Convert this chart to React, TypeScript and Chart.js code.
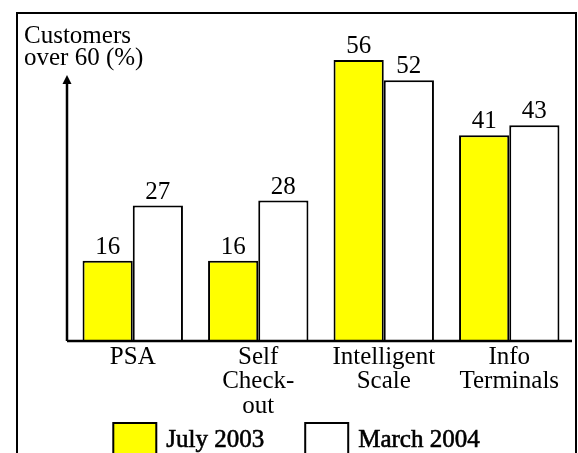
import React, { useEffect, useRef } from "react";
import { Chart, registerables } from "chart.js";

Chart.register(...registerables);

const categories: string[][] = [["PSA"], ["Self", "Check-", "out"], ["Intelligent", "Scale"], ["Info", "Terminals"]];
const july2003: number[] = [16, 16, 56, 41];
const march2004: number[] = [27, 28, 52, 43];
const seriesNames: string[] = ["July 2003", "March 2004"];
const titleLines: string[] = ["Customers", "over 60 (%)"];

const FONT = "Liberation Serif, 'Times New Roman', serif";

const decorPlugin = {
  id: "decor",
  beforeDraw(chart: any) {
    const ctx = chart.ctx;
    ctx.save();
    ctx.fillStyle = "#ffffff";
    ctx.fillRect(0, 0, chart.width, chart.height);
    ctx.restore();
  },
  afterDatasetsDraw(chart: any) {
    const ctx = chart.ctx;
    const area = chart.chartArea;
    const y0 = chart.scales.y.getPixelForValue(0);
    const axisX = area.left - 3;
    ctx.save();
    // frame
    ctx.strokeStyle = "#000";
    ctx.lineWidth = 2;
    ctx.strokeRect(17, 13, 559, 460);
    // axes
    ctx.lineWidth = 2.5;
    ctx.beginPath();
    ctx.moveTo(axisX, y0);
    ctx.lineTo(area.right, y0);
    ctx.stroke();
    ctx.beginPath();
    ctx.moveTo(axisX, y0);
    ctx.lineTo(axisX, 82);
    ctx.stroke();
    ctx.fillStyle = "#000";
    ctx.beginPath();
    ctx.moveTo(axisX, 75);
    ctx.lineTo(axisX - 4.5, 84);
    ctx.lineTo(axisX + 4.5, 84);
    ctx.closePath();
    ctx.fill();
    // title
    ctx.font = `25px ${FONT}`;
    ctx.textAlign = "left";
    ctx.textBaseline = "alphabetic";
    titleLines.forEach((t, i) => ctx.fillText(t, 24, 43 + i * 22));
    // value labels
    ctx.textAlign = "center";
    chart.data.datasets.forEach((ds: any, di: number) => {
      const meta = chart.getDatasetMeta(di);
      meta.data.forEach((bar: any, i: number) => {
        ctx.fillText(String(ds.data[i]), bar.x, bar.y - 7);
      });
    });
    // legend
    const boxW = 43;
    const boxH = 34;
    const gapBoxText = 10;
    const itemGap = 41;
    ctx.font = `25px ${FONT}`;
    const widths = chart.data.datasets.map((ds: any) => ctx.measureText(ds.label).width);
    const total = widths.reduce((a: number, w: number) => a + boxW + gapBoxText + w, 0) + itemGap * (widths.length - 1);
    let x = (17 + 576) / 2 - total / 2;
    chart.data.datasets.forEach((ds: any, di: number) => {
      ctx.fillStyle = ds.backgroundColor;
      ctx.fillRect(x, 423, boxW, boxH);
      ctx.strokeStyle = "#000";
      ctx.lineWidth = 2;
      ctx.strokeRect(x, 423, boxW, boxH);
      ctx.fillStyle = "#000";
      ctx.textAlign = "left";
      ctx.strokeStyle = "#000";
      ctx.lineWidth = 0.6;
      ctx.fillText(ds.label, x + boxW + gapBoxText, 447);
      ctx.strokeText(ds.label, x + boxW + gapBoxText, 447);
      x += boxW + gapBoxText + widths[di] + itemGap;
    });
    ctx.restore();
  },
};

export default function App() {
  const ref = useRef<HTMLCanvasElement | null>(null);
  useEffect(() => {
    if (!ref.current) return;
    const chart = new Chart(ref.current, {
      type: "bar",
      data: {
        labels: categories,
        datasets: [
          {
            label: seriesNames[0],
            data: july2003,
            backgroundColor: "#FFFF00",
            borderColor: "#000000",
            borderWidth: 2,
            categoryPercentage: 0.8,
            barPercentage: 1,
          },
          {
            label: seriesNames[1],
            data: march2004,
            backgroundColor: "#FFFFFF",
            borderColor: "#000000",
            borderWidth: 2,
            categoryPercentage: 0.8,
            barPercentage: 1,
          },
        ],
      },
      options: {
        responsive: false,
        animation: false,
        devicePixelRatio: 1,
        layout: { padding: { left: 70, right: 6, top: 40, bottom: 0 } },
        plugins: { legend: { display: false }, tooltip: { enabled: false } },
        scales: {
          x: {
            grid: { display: false, drawTicks: false },
            border: { display: false },
            ticks: {
              color: "#000",
              padding: 4,
              font: { family: FONT, size: 25, lineHeight: 0.98 },
              maxRotation: 0,
              autoSkip: false,
            },
            afterFit(scale: any) {
              scale.height = 112;
            },
          },
          y: {
            display: false,
            min: 0,
            max: 60,
          },
        },
      },
      plugins: [decorPlugin],
    });
    return () => chart.destroy();
  }, []);
  return (
    <div style={{ position: "absolute", left: 0, top: 0, width: 578, height: 453, overflow: "hidden" }}>
      <canvas ref={ref} width={578} height={453} style={{ display: "block" }} />
    </div>
  );
}
